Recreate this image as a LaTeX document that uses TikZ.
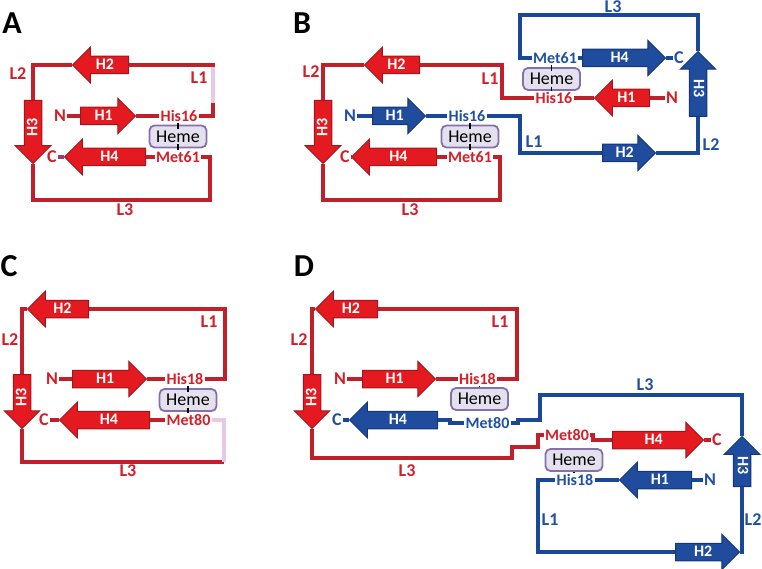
\documentclass[tikz,border=0pt]{standalone}
\usepackage{fontspec}
\setmainfont{Carlito}
\usetikzlibrary{shapes.arrows}
\definecolor{redfill}{RGB}{228,26,32}
\definecolor{rededge}{RGB}{160,22,28}
\definecolor{redline}{RGB}{192,32,42}
\definecolor{redtext}{RGB}{214,30,40}
\definecolor{bluefill}{RGB}{31,76,156}
\definecolor{blueedge}{RGB}{22,54,120}
\definecolor{blueline}{RGB}{26,72,152}
\definecolor{bluetext}{RGB}{32,80,164}
\definecolor{brokenlink}{RGB}{232,200,226}
\definecolor{mauvelink}{RGB}{155,60,110}
\definecolor{hemefill}{RGB}{228,224,238}
\definecolor{hemeedge}{RGB}{132,112,170}
\tikzset{
  helix/.style={single arrow, draw, line width=1pt, anchor=tail,
    single arrow head extend=9pt, single arrow tip angle=90,
    inner xsep=0pt, inner ysep=4pt, text height=8.5pt, text depth=0pt,
    font=\bfseries\fontsize{16}{16}\selectfont, text=white},
  helixR/.style={helix, fill=redfill, draw=rededge},
  helixB/.style={helix, fill=bluefill, draw=blueedge},
  goleft/.style={shape border rotate=180},
  godown/.style={shape border rotate=180, rotate=90},
  goup/.style={shape border rotate=180, rotate=-90},
  loopR/.style={draw=redline, line width=3.5pt},
  loopB/.style={draw=blueline, line width=3.5pt},
  loopP/.style={draw=brokenlink, line width=3.5pt},
  labR/.style={text=redtext, inner sep=1pt, font=\bfseries\fontsize{16}{16}\selectfont},
  labB/.style={text=bluetext, inner sep=1pt, font=\bfseries\fontsize{16}{16}\selectfont},
  tagR/.style={labR, font=\bfseries\fontsize{18}{18}\selectfont},
  tagB/.style={labB, font=\bfseries\fontsize{18}{18}\selectfont},
  heme/.style={draw=hemeedge, fill=hemefill, line width=1.8pt, rounded corners=5pt,
    minimum width=57pt, minimum height=22pt, inner sep=0pt,
    font=\fontsize{18}{18}\selectfont},
  bond/.style={draw=black, line width=1.5pt},
  panel/.style={font=\bfseries\fontsize{32}{32}\selectfont, inner sep=0pt}
}
\begin{document}
\begin{tikzpicture}[x=1pt,y=-1pt]
\useasboundingbox (0,0) rectangle (762,569);

% A
\node[panel] (A) at (12,23) {A};
\node[helixR, minimum height=55] (A-H1) at (80,116) {H1};
\node[helixR, goleft, minimum height=56] (A-H2) at (129,65) {H2};
\node[helixR, godown, minimum height=63] (A-H3) at (33,100) {H3};
\node[helixR, goleft, minimum height=81] (A-H4) at (146,157) {H4};
\node[tagR] (A-N) at (60,116) {N};
\node[labR] (A-His) at (179,116) {His16};
\node[heme] (A-heme) at (178,136.5) {Heme};
\node[labR] (A-Met) at (178,157) {Met61};
\node[tagR] (A-C) at (52,157) {C};
\node[tagR] at (199,78) {L1};
\node[tagR] at (18,74) {L2};
\node[tagR] at (125,210) {L3};
\coordinate (A-l1a) at (213,103);
\coordinate (A-l1b) at (213,67);
\coordinate (A-l3) at (210,200);
\draw[loopR] (A-N.east) -- (A-H1.tail);
\draw[loopR] (A-H1.tip) -- (A-His.west);
\draw[loopR] (A-His.east) -| (A-l1a);
\draw[loopP] (A-l1a) -- (A-l1b);
\draw[loopR] (A-l1b) |- (A-H2.tail);
\draw[loopR] (A-H2.tip) -| (A-H3.tail);
\draw[loopR] (A-H3.tip) |- (A-l3) |- (A-Met.east);
\draw[loopR] (A-Met.west) -- (A-H4.tail);
\draw[draw=mauvelink, line width=3.5pt] (A-H4.tip) -- (A-C.east);
\draw[bond] (A-His.south -| A-heme.north) -- ([yshift=-4pt]A-heme.north);
\draw[bond] ([yshift=4pt]A-heme.south) -- (A-Met.north -| A-heme.south);

% B
\node[panel] (B) at (302,23) {B};
\node[helixR, goleft, minimum height=55] (B-H2r) at (420,65) {H2};
\node[helixR, godown, minimum height=63] (B-H3r) at (323,100) {H3};
\node[helixR, goleft, minimum height=85] (B-H4r) at (437,157) {H4};
\node[helixR, goleft, minimum height=55] (B-H1r) at (650,98) {H1};
\node[helixB, minimum height=53] (B-H1b) at (372,116) {H1};
\node[helixB, minimum height=53] (B-H2b) at (602,153) {H2};
\node[helixB, goup, minimum height=65] (B-H3b) at (698,117) {H3};
\node[helixB, minimum height=83] (B-H4b) at (582,58) {H4};
\node[tagR] (B-Cr) at (345,157) {C};
\node[labR] (B-Metr) at (470,157) {Met61};
\node[heme] (B-hemeb) at (470,136.5) {Heme};
\node[labR] (B-Hisr) at (554,98) {His16};
\node[tagR] (B-Nr) at (672,98) {N};
\node[heme] (B-hemet) at (551.5,79) {Heme};
\node[tagB] (B-Nb) at (350,116) {N};
\node[labB] (B-Hisb) at (467,116) {His16};
\node[labB] (B-Metb) at (555,58) {Met61};
\node[tagB] (B-Cb) at (679,58) {C};
\node[tagR] at (490,79) {L1};
\node[tagR] at (311,72) {L2};
\node[tagR] at (410,210) {L3};
\node[tagB] at (534,142) {L1};
\node[tagB] at (711,145) {L2};
\node[tagB] at (613,7) {L3};
\coordinate (B-l1r) at (502,98);
\coordinate (B-l3r) at (500,200);
\coordinate (B-l1b) at (520,153);
\coordinate (B-l3b) at (520,15);
\draw[loopR] (B-Metr.east) -| (B-l3r) -| (B-H3r.tip);
\draw[loopR] (B-H3r.tail) |- (B-H2r.tip);
\draw[loopR] (B-H2r.tail) -| (B-l1r) -- (B-Hisr.west);
\draw[loopR] (B-Hisr.east) -- (B-H1r.tip);
\draw[loopR] (B-H1r.tail) -- (B-Nr.west);
\draw[loopR] (B-Metr.west) -- (B-H4r.tail);
\draw[loopR] (B-H4r.tip) -- (B-Cr.east);
\draw[loopB] (B-Nb.east) -- (B-H1b.tail);
\draw[loopB] (B-H1b.tip) -- (B-Hisb.west);
\draw[loopB] (B-Hisb.east) -| (B-l1b) -- (B-H2b.tail);
\draw[loopB] (B-H2b.tip) -| (B-H3b.tail);
\draw[loopB] (B-H3b.tip) |- (B-l3b) |- (B-Metb.west);
\draw[loopB] (B-Metb.east) -- (B-H4b.tail);
\draw[loopB] (B-H4b.tip) -- (B-Cb.west);
\draw[bond] (B-Hisb.south -| B-hemeb.north) -- ([yshift=-4pt]B-hemeb.north);
\draw[bond] ([yshift=4pt]B-hemeb.south) -- (B-Metr.north -| B-hemeb.south);
\draw[bond] (B-Metb.south -| B-hemet.north) -- ([yshift=-4pt]B-hemet.north);
\draw[bond] ([yshift=4pt]B-hemet.south) -- (B-Hisr.north -| B-hemet.south);

% C
\node[panel] (C) at (9,266) {C};
\node[helixR, goleft, minimum height=61] (C-H2) at (89,309) {H2};
\node[helixR, minimum height=74] (C-H1) at (72,379) {H1};
\node[helixR, godown, minimum height=54] (C-H3) at (22,374) {H3};
\node[helixR, goleft, minimum height=90] (C-H4) at (150,420) {H4};
\node[tagR] (C-N) at (52,379) {N};
\node[labR] (C-His) at (185,379) {His18};
\node[heme] (C-heme) at (188,400) {Heme};
\node[labR] (C-Met) at (188.5,420) {Met80};
\node[tagR] (C-C) at (44,420) {C};
\node[tagR] at (209,322) {L1};
\node[tagR] at (10,340) {L2};
\node[tagR] at (128,471) {L3};
\coordinate (C-l1) at (225,309);
\coordinate (C-l3) at (224,462);
\draw[loopR] (C-N.east) -- (C-H1.tail);
\draw[loopR] (C-H1.tip) -- (C-His.west);
\draw[loopR] (C-His.east) -| (C-l1) -- (C-H2.tail);
\draw[loopR] (C-H2.tip) -| (C-H3.tail);
\draw[loopR] (C-H3.tip) |- (C-l3);
\draw[loopP] (C-l3) |- (C-Met.east);
\draw[loopR] (C-Met.west) -- (C-H4.tail);
\draw[loopR] (C-H4.tip) -- (C-C.east);
\draw[bond] (C-His.south -| C-heme.north) -- ([yshift=-4pt]C-heme.north);
\draw[bond] ([yshift=4pt]C-heme.south) -- (C-Met.north -| C-heme.south);

% D
\node[panel] (D) at (304,266) {D};
\node[helixR, goleft, minimum height=62] (D-H2r) at (378,309) {H2};
\node[helixR, minimum height=73] (D-H1r) at (362,379) {H1};
\node[helixR, godown, minimum height=54] (D-H3r) at (312,374) {H3};
\node[helixR, minimum height=91] (D-H4r) at (612,440) {H4};
\node[helixB, goleft, minimum height=88] (D-H4b) at (438,420) {H4};
\node[helixB, goup, minimum height=50] (D-H3b) at (742,487) {H3};
\node[helixB, minimum height=64] (D-H2b) at (675,552) {H2};
\node[helixB, goleft, minimum height=72] (D-H1b) at (692,480) {H1};
\node[tagR] (D-Nr) at (340,379) {N};
\node[labR] (D-Hisr) at (477.5,379) {His18};
\node[heme] (D-hemer) at (479.5,399) {Heme};
\node[labR] (D-Metr) at (567,435) {Met80};
\node[tagR] (D-Cr) at (717,440) {C};
\node[tagB] (D-Cb) at (337,420) {C};
\node[labB] (D-Metb) at (487.5,423) {Met80};
\node[labB] (D-Hisb) at (575,480) {His18};
\node[tagB] (D-Nb) at (710,480) {N};
\node[heme] (D-hemeb) at (574,460) {Heme};
\node[tagR] at (500,322) {L1};
\node[tagR] at (299,340) {L2};
\node[tagR] at (407,471) {L3};
\node[tagB] at (645,385) {L3};
\node[tagB] at (550,520) {L1};
\node[tagB] at (753,520) {L2};
\coordinate (D-l1r) at (517,309);
\coordinate (D-l3r1) at (512,458);
\coordinate (D-l3r2) at (538,447);
\coordinate (D-l4r) at (593,440);
\coordinate (D-l4b) at (450,423);
\coordinate (D-l3b1) at (518,420);
\coordinate (D-l3b2) at (540,395);
\coordinate (D-l1b) at (538,480);
\draw[loopR] (D-Nr.east) -- (D-H1r.tail);
\draw[loopR] (D-H1r.tip) -- (D-Hisr.west);
\draw[loopR] (D-Hisr.east) -| (D-l1r) -- (D-H2r.tail);
\draw[loopR] (D-H2r.tip) -| (D-H3r.tail);
\draw[loopR] (D-H3r.tip) |- (D-l3r1) |- (D-l3r2) |- (D-Metr.west);
\draw[loopR] (D-Metr.east) -| (D-l4r) -- (D-H4r.tail);
\draw[loopR] (D-H4r.tip) -- (D-Cr.west);
\draw[loopB] (D-Cb.east) -- (D-H4b.tip);
\draw[loopB] (D-H4b.tail) -| (D-l4b) -- (D-Metb.west);
\draw[loopB] (D-Metb.east) -| (D-l3b1) -| (D-l3b2) -| (D-H3b.tip);
\draw[loopB] (D-H3b.tail) |- (D-H2b.tip);
\draw[loopB] (D-H2b.tail) -| (D-l1b) -- (D-Hisb.west);
\draw[loopB] (D-Hisb.east) -- (D-H1b.tip);
\draw[loopB] (D-H1b.tail) -- (D-Nb.west);
\draw[bond] (D-Hisr.south -| D-hemer.north) -- (D-hemer.north);
\draw[bond] (D-hemeb.south) -- (D-Hisb.north -| D-hemeb.south);
\end{tikzpicture}
\end{document}
